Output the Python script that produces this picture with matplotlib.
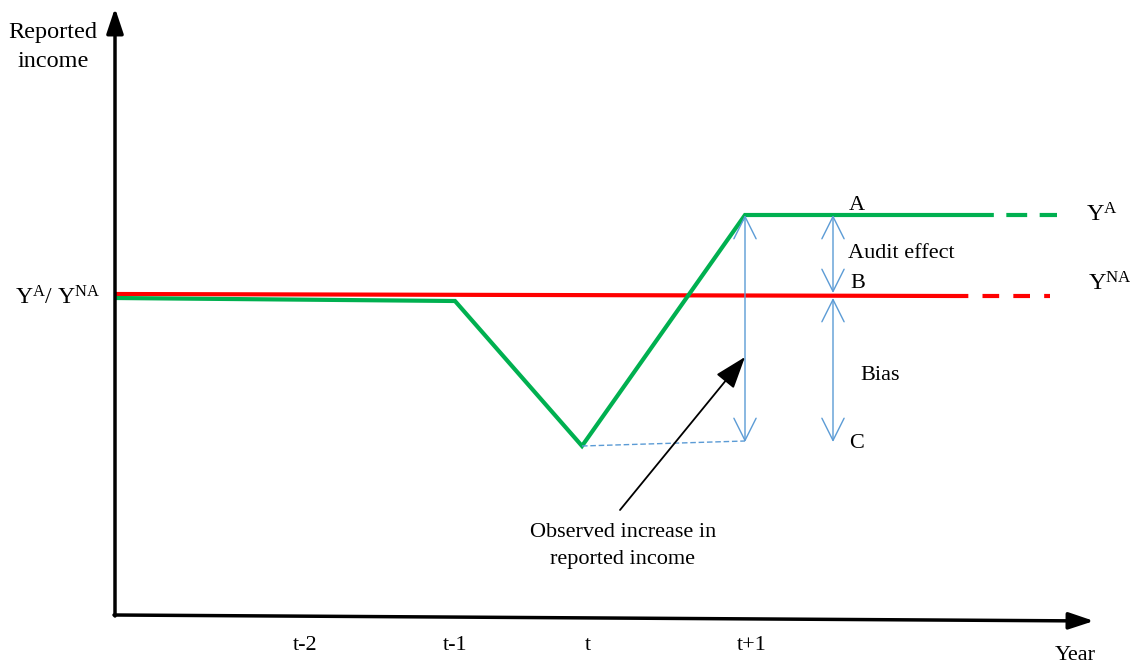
import matplotlib
matplotlib.use("Agg")
import matplotlib.pyplot as plt

plt.rcParams['font.family'] = ['Liberation Serif', 'DejaVu Serif']
plt.rcParams['mathtext.fontset'] = 'custom'
plt.rcParams['mathtext.rm'] = 'Liberation Serif'
plt.rcParams['mathtext.it'] = 'Liberation Serif'

# diagram units: x = horizontal position, y = reported income level
year_labels = ['t-2', 't-1', 't', 't+1']
year_pos = [305, 455, 588, 752]

# non-audited path (red) and audited path (green)
na_x = [115, 955]
na_y = [376, 374]
na_ext_x = [955, 1050]
na_ext_y = [374, 374]

a_x = [115, 455, 582, 745, 973]
a_y = [372, 369, 224, 455, 455]
a_ext_x = [973, 1057]
a_ext_y = [455, 455]

y_a = 455
y_na = 374
y_low = 224

green = '#00B050'
red = '#FF0000'
blue = '#5B9BD5'

fig = plt.figure(figsize=(11.3, 6.7), dpi=100)
ax = fig.add_axes([0, 0, 1, 1])
ax.set_xlim(0, 1130)
ax.set_ylim(0, 670)
ax.axis('off')

# axes arrows
head = '-|>,head_length=0.9,head_width=0.3'
ax.annotate('', xy=(115, 662), xytext=(115, 54),
            arrowprops=dict(arrowstyle=head, lw=2.5, color='black',
                            mutation_scale=17, shrinkA=0, shrinkB=0))
ax.annotate('', xy=(1094, 49), xytext=(114, 55),
            arrowprops=dict(arrowstyle=head, lw=2.5, color='black',
                            mutation_scale=17, shrinkA=0, shrinkB=0))

# income paths
ax.plot(na_x, na_y, color=red, lw=3, solid_capstyle='butt')
ax.plot(na_ext_x, na_ext_y, color=red, lw=3, ls=(0.8, (4, 3.4)))
ax.plot(a_x, a_y, color=green, lw=3, solid_capstyle='butt', solid_joinstyle='miter')
ax.plot(a_ext_x, a_ext_y, color=green, lw=3, ls=(0, (5, 3)))

# blue dashed line from the trough to t+1
ax.plot([a_x[2], a_x[3]], [y_low, y_low + 5], color=blue, lw=1, ls=(0, (4, 2)))

# double headed measurement arrows
arr = dict(arrowstyle='<->,head_length=0.8,head_width=0.4', lw=1, color=blue,
           mutation_scale=20, shrinkA=0, shrinkB=0)
ax.annotate('', xy=(a_x[3], y_a), xytext=(a_x[3], y_low + 4), arrowprops=arr)
ax.annotate('', xy=(833, y_a), xytext=(833, y_na + 3), arrowprops=arr)
ax.annotate('', xy=(833, y_na - 2), xytext=(833, y_low + 4), arrowprops=arr)

# observed increase pointer
ax.annotate('', xy=(745, 313), xytext=(620, 160),
            arrowprops=dict(arrowstyle='-|>,head_length=1.0,head_width=0.35',
                            lw=1.3, color='black', mutation_scale=20, shrinkA=0, shrinkB=0))

fs = 16
ax.text(53, 623, 'Reported\nincome', ha='center', va='center', fontsize=17.5, linespacing=1.5)
ax.text(58, 372, r'$\mathrm{Y^{A}/\ Y^{NA}}$', ha='center', va='center', fontsize=17)
ax.text(1102, 455, r'$\mathrm{Y^{A}}$', ha='center', va='center', fontsize=17.5)
ax.text(1110, 386, r'$\mathrm{Y^{NA}}$', ha='center', va='center', fontsize=17.5)

ax.text(857, 465, 'A', ha='center', va='center', fontsize=fs)
ax.text(858, 386, 'B', ha='center', va='center', fontsize=fs)
ax.text(857, 226, 'C', ha='center', va='center', fontsize=fs)
ax.text(848, 417, 'Audit effect', ha='left', va='center', fontsize=fs)
ax.text(880, 295, 'Bias', ha='center', va='center', fontsize=fs)
ax.text(623, 124, 'Observed increase in\nreported income', ha='center', va='center',
        fontsize=fs, linespacing=1.55)

for lab, px in zip(year_labels, year_pos):
    ax.text(px, 24, lab, ha='center', va='center', fontsize=fs)
ax.text(1075, 14, 'Year', ha='center', va='center', fontsize=fs)

fig.savefig('out.png', dpi=100)
